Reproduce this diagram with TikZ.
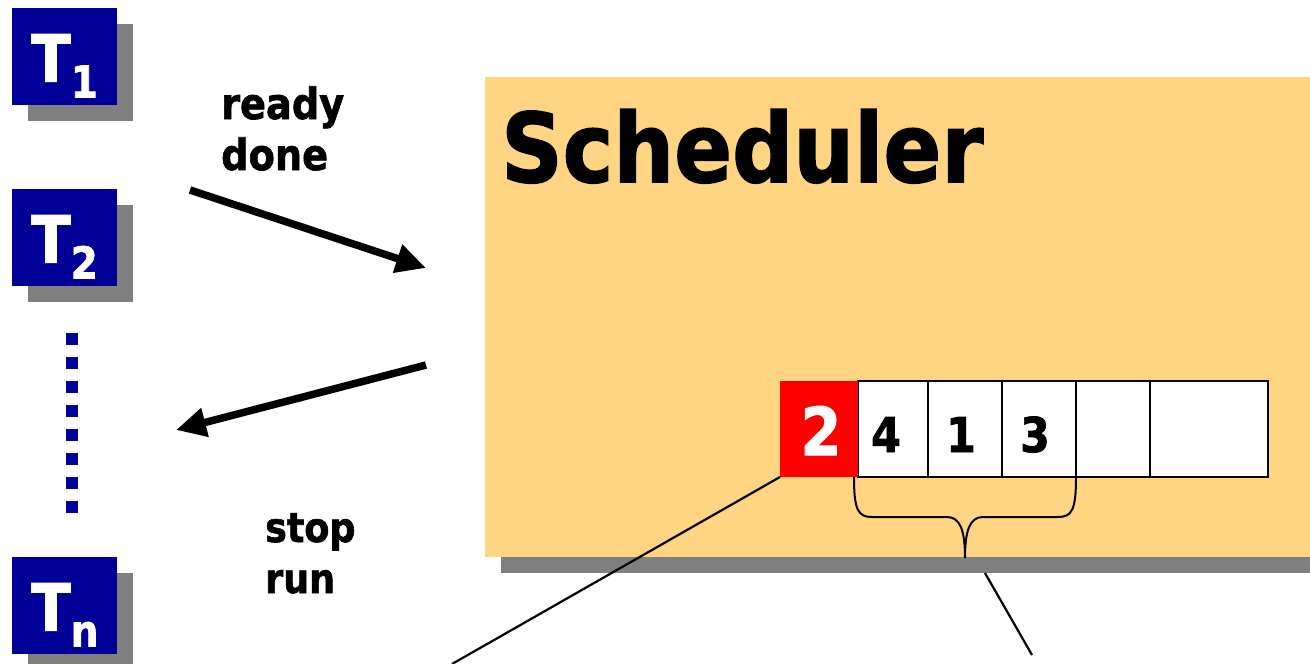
\documentclass[tikz,border=0pt]{standalone}
\usepackage{fontspec}
\setmainfont{DejaVu Sans}[BoldFeatures={FakeBold=1.6}]
\usetikzlibrary{arrows.meta,shadows,calc}
\definecolor{taskblue}{RGB}{0,0,153}
\definecolor{schedorange}{RGB}{255,213,132}
\definecolor{shadowgray}{RGB}{128,128,128}
\definecolor{headred}{RGB}{255,0,0}
\newcommand{\fsz}[1]{\fontsize{#1}{#1}\selectfont}
\newcommand{\narrow}[1]{\scalebox{0.89}[1]{#1}}
\begin{document}
\begin{tikzpicture}[x=1pt,y=-1pt,
  dropbox/.style={drop shadow={shadow xshift=16pt, shadow yshift=-16pt, fill=shadowgray, opacity=1}},
  taskbox/.style={fill=taskblue, draw=none, minimum width=105pt, minimum height=97pt, inner sep=0pt, outer sep=0pt},
  tasklabel/.style={text=white, font=\bfseries\fsz{65}, inner sep=0pt, anchor=base west},
  schedbox/.style={fill=schedorange, draw=none, minimum width=860pt, minimum height=480pt, inner sep=0pt, outer sep=0pt, anchor=north west},
  cell/.style={fill=white, draw=black, line width=2.2pt, minimum height=96pt, inner sep=0pt, outer sep=0pt, anchor=north west},
  headcell/.style={cell, fill=headred, draw=none},
  qdigit/.style={font=\bfseries\fsz{48}, inner sep=0pt, anchor=base},
  flowlabel/.style={font=\bfseries\fsz{43}, inner sep=0pt, anchor=base west},
  smalllabel/.style={font=\bfseries\fsz{41}, inner sep=0pt, anchor=base west},
  flowarrow/.style={line width=7.5pt, -{Triangle[length=30pt, width=28pt]}},
  pointer/.style={line width=2.2pt},
]
\useasboundingbox (0,0) rectangle (1310,664);
\clip (0,0) rectangle (1310,664);

% scheduler panel and its title
\node[schedbox, dropbox] (sched) at (485,77) {};
\node[font=\bfseries\fsz{96}, inner sep=0pt, anchor=base west] (title) at (501,182) {\narrow{Scheduler}};

% ready queue
\node[cell, minimum width=70pt]  (c1) at (858,381) {};
\node[cell, minimum width=74pt]  (c2) at (928,381) {};
\node[cell, minimum width=74pt]  (c3) at (1002,381) {};
\node[cell, minimum width=74pt]  (c4) at (1076,381) {};
\node[cell, minimum width=118pt] (c5) at (1150,381) {};
\node[headcell, minimum width=78pt] (c0) at (780,381) {};
\node[font=\bfseries\fsz{66}, text=white, inner sep=0pt, anchor=base] (d2) at (821,455) {\narrow{2}};
\node[qdigit] (d4) at (886,452) {\narrow{4}};
\node[qdigit] (d1) at (961,452) {\narrow{1}};
\node[qdigit] (d3) at (1035,452) {\narrow{3}};

% brace under the waiting tasks
\draw[line width=2pt] (854,477) .. controls (854,510) and (858,517) .. (872,517)
  -- (947,517) .. controls (960,517) and (965,530) .. (965,558)
  .. controls (965,530) and (970,517) .. (983,517)
  -- (1058,517) .. controls (1072,517) and (1076,510) .. (1076,477);

% pointer lines
\coordinate (leftend) at (452,664);
\draw[pointer] (c0.south west) -- (leftend);
\coordinate (rtop) at (985,573);
\coordinate (rbot) at (1032,655);
\draw[pointer] (rtop) -- (rbot);

% tasks
\node[taskbox, dropbox] (t1) at (64.5,56.5) {};
\node[taskbox, dropbox] (t2) at (64.5,237.5) {};
\node[taskbox, dropbox] (tn) at (64.5,605.5) {};
\node[tasklabel] (t1l) at ($(t1.north west)+(19,73.5)$) {\narrow{T}\raisebox{-16pt}{\fsz{44}\narrow{1}}};
\node[tasklabel] (t2l) at ($(t2.north west)+(19,73.5)$) {\narrow{T}\raisebox{-16pt}{\fsz{44}\narrow{2}}};
\node[tasklabel] (tnl) at ($(tn.north west)+(19,73.5)$) {\narrow{T}\raisebox{-16pt}{\fsz{44}\narrow{n}}};

% ellipsis between T2 and Tn
\coordinate (dotstop) at (71.7,333.3);
\coordinate (dotsbot) at (71.7,513.3);
\draw[taskblue, line width=12pt, dash pattern=on 12pt off 12pt] (dotstop) -- (dotsbot);

% signals between tasks and scheduler
\coordinate (inS) at (190,190);
\coordinate (inE) at (426,268);
\draw[flowarrow] (inS) -- (inE);
\coordinate (outS) at (426,365);
\coordinate (outE) at (176,430);
\draw[flowarrow] (outS) -- (outE);

\node[flowlabel] (lready) at (221,119) {\narrow{ready}};
\node[flowlabel] (ldone) at (221,170) {\narrow{done}};
\node[smalllabel] (lstop) at (265,542) {\narrow{stop}};
\node[smalllabel] (lrun) at (265,593) {\narrow{run}};
\end{tikzpicture}
\end{document}
